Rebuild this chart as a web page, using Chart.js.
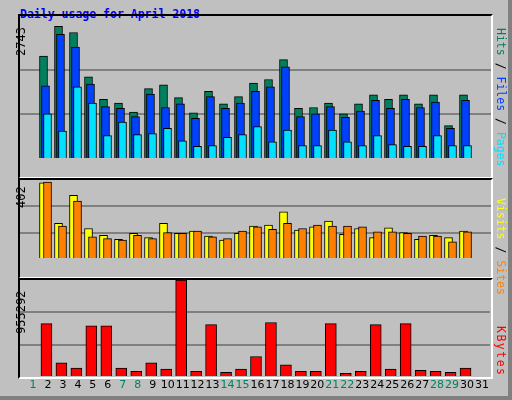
<!DOCTYPE html>
<html><head><meta charset="utf-8">
<script src="https://cdn.jsdelivr.net/npm/chart.js@4"></script>
<style>
body{margin:0;background:#fff;}
#frame{position:absolute;left:0;top:0;width:508px;height:396px;background:#c0c0c0;border-right:4px solid #808080;border-bottom:4px solid #808080;}
.p{position:absolute;left:20px;width:471px;}
.bd{position:absolute;border:2px solid #000;border-right-color:#fff;border-bottom-color:#fff;box-sizing:border-box;pointer-events:none}
.t{position:absolute;font-family:"DejaVu Sans Mono",monospace;white-space:nowrap;font-size:12px}
.rl{transform-origin:0 0;transform:rotate(90deg)}
.ll{transform-origin:0 0;transform:rotate(-90deg)}
</style></head><body>
<div id="frame"></div>
<div class="t" style="left:20px;top:7px;color:#0000ff;font-weight:bold;font-size:11.5px" id="title"></div>
<div class="p" style="top:25px;height:152px"><canvas id="c1"></canvas></div>
<div class="p" style="top:180px;height:97px"><canvas id="c2"></canvas></div>
<div class="p" style="top:280px;height:115px"><canvas id="c3"></canvas></div>
<div class="bd" style="left:18px;top:14px;width:475px;height:165px"></div>
<div class="bd" style="left:18px;top:178px;width:475px;height:101px"></div>
<div class="bd" style="left:18px;top:278px;width:475px;height:101px"></div>
<div class="t ll" id="m1" style="left:14px;top:56px;font-size:12px"></div>
<div class="t ll" id="m2" style="left:14px;top:208px;font-size:12px"></div>
<div class="t ll" id="m3" style="left:14px;top:334px;font-size:12px"></div>
<div class="t rl" style="left:508px;top:28px;font-size:11.5px"><span style="color:#00805c">Hits</span> / <span style="color:#0040ff">Files</span> / <span style="color:#00e0ff">Pages</span></div>
<div class="t rl" style="left:508px;top:198px;font-size:11.5px"><span style="color:#ffff00">Visits</span> / <span style="color:#ff8000">Sites</span></div>
<div class="t rl" style="left:508px;top:326px;font-size:11.5px;letter-spacing:1.5px"><span style="color:#ff0000">KBytes</span></div>
<script>
const title="Daily usage for April 2018";
const days=[1,2,3,4,5,6,7,8,9,10,11,12,13,14,15,16,17,18,19,20,21,22,23,24,25,26,27,28,29,30,31];
const weekend=[1,7,8,14,15,21,22,28,29];
const hits=[null,2108,2718,2589,1683,1220,1147,962,1442,1516,1257,943,1387,1128,1276,1553,1627,2034,1036,1054,1147,925,1128,1313,1220,1313,1128,1313,684,1313,null];
const files=[null,1498,2552,2293,1535,1073,1036,869,1331,1054,1128,832,1276,1036,1147,1387,1479,1886,869,925,1073,851,980,1202,1036,1220,1054,1165,629,1202,null];
const pages=[null,925,573,1479,1147,481,758,499,518,629,370,259,277,444,499,666,351,592,277,277,592,351,277,481,296,259,259,481,277,277,null];
const visits=[null,388,181,324,155,121,100,130,109,181,130,142,117,96,130,168,172,240,147,164,193,126,155,109,159,134,100,121,109,142,null];
const sites=[null,392,168,295,113,104,96,121,104,134,130,142,113,104,142,164,151,181,155,172,168,168,164,138,138,130,117,117,87,138,null];
const kbytes=[null,526000,139000,87000,505000,505000,87000,56000,139000,77000,955292,56000,516000,45000,77000,202000,537000,119000,56000,56000,526000,35000,56000,516000,77000,526000,66000,56000,45000,87000,null];
const maxHits=2743, maxVisits=402, maxKB=955292;

document.getElementById('title').textContent=title;
document.getElementById('m1').textContent=maxHits;
document.getElementById('m2').textContent=maxVisits;
document.getElementById('m3').textContent=maxKB;

const pts=(arr,sh)=>arr.map((v,i)=>({x:days[i]+sh,y:v}));
const ds=(label,arr,sh,color,w,order)=>({label,data:pts(arr,sh),backgroundColor:color,borderColor:'#000',borderWidth:1,barThickness:w,grouped:false,order});
function mk(id,datasets,max,showX){
  return new Chart(document.getElementById(id),{type:'bar',data:{datasets},
    options:{responsive:true,maintainAspectRatio:false,animation:false,
      plugins:{legend:{display:false},tooltip:{enabled:false}},
      layout:{padding:0},
      scales:{
        x:{type:'linear',offset:false,min:1-13/15,max:31+8/15,display:showX,
          grid:{display:false,drawTicks:false},border:{display:false},
          afterBuildTicks:a=>{a.ticks=days.map(d=>({value:d}));},
          afterFit:s=>{s.height=18;},
          ticks:{autoSkip:false,maxRotation:0,padding:2,font:{family:'DejaVu Sans',size:11},
            callback:(v)=>String(v),
            color:(c)=>weekend.includes(c.tick.value)?'#008060':'#000'}},
        y:{min:0,max:max,display:true,afterFit:s=>{s.width=0;},
          ticks:{display:false,stepSize:max/3},
          grid:{drawTicks:false,lineWidth:2,color:(c)=>(c.index===0||c.index===3)?'rgba(0,0,0,0)':'#808080'},
          border:{display:false}}
      }}});
}
mk('c1',[ds('Pages',pages,-0.033,'#00e0ff',8,1),ds('Files',files,-0.167,'#0040ff',8,2),ds('Hits',hits,-0.3,'#00805c',8,3)],maxHits,false);
mk('c2',[ds('Sites',sites,-0.033,'#ff8000',8,1),ds('Visits',visits,-0.3,'#ffff00',8,2)],maxVisits,false);
mk('c3',[ds('KBytes',kbytes,-0.1,'#ff0000',11,1)],maxKB,true);
</script>
</body></html>
